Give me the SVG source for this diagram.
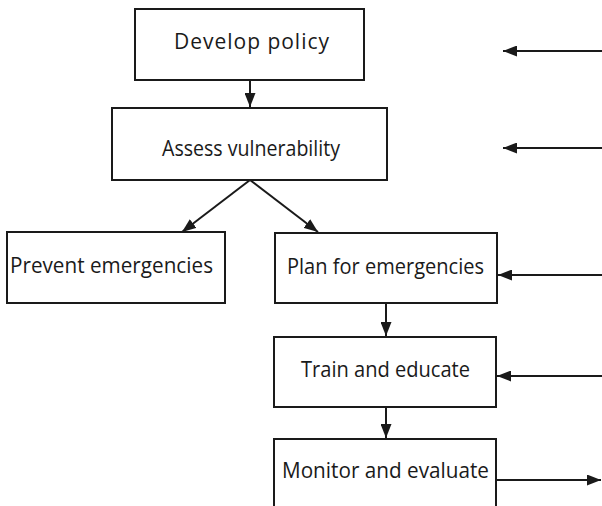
<svg xmlns="http://www.w3.org/2000/svg" width="602" height="506" viewBox="0 0 602 506">
  <defs>
    <marker id="arrow" viewBox="0 0 14 11" refX="14" refY="5.5" markerWidth="14" markerHeight="11" markerUnits="userSpaceOnUse" orient="auto">
      <path d="M0,0 L14,5.5 L0,11 Z" fill="#1a1a1a"/>
    </marker>
    <style>
      .box { fill: #ffffff; stroke: #1a1a1a; stroke-width: 2; }
      .label { font-family: "Open Sans", "Liberation Sans", sans-serif; font-size: 21px; fill: #1a1a1a; text-anchor: middle; }
      .link { stroke: #1a1a1a; stroke-width: 2; fill: none; marker-end: url(#arrow); }
    </style>
  </defs>
  <rect width="602" height="506" fill="#ffffff"/>

  <!-- Connectors -->
  <g id="connectors">
    <line class="link" x1="250" y1="80" x2="250" y2="107"/>
    <line class="link" x1="250" y1="180" x2="182" y2="232"/>
    <line class="link" x1="250" y1="180" x2="318" y2="232"/>
    <line class="link" x1="386" y1="303" x2="386" y2="336"/>
    <line class="link" x1="386" y1="407" x2="386" y2="438"/>
    <line class="link" x1="602" y1="51" x2="503" y2="51"/>
    <line class="link" x1="602" y1="148" x2="503" y2="148"/>
    <line class="link" x1="602" y1="275" x2="498" y2="275"/>
    <line class="link" x1="602" y1="376" x2="497" y2="376"/>
    <line class="link" x1="496" y1="480" x2="601" y2="480"/>
  </g>

  <!-- Nodes -->
  <g id="develop-policy">
    <rect class="box" x="135" y="9" width="229" height="71"/>
    <text class="label" x="251.5" y="49" textLength="155" lengthAdjust="spacing">Develop policy</text>
  </g>
  <g id="assess-vulnerability">
    <rect class="box" x="112" y="108" width="275" height="72"/>
    <text class="label" x="251" y="156" textLength="178" lengthAdjust="spacingAndGlyphs">Assess vulnerability</text>
  </g>
  <g id="prevent-emergencies">
    <rect class="box" x="7" y="232" width="218" height="71"/>
    <text class="label" x="111.5" y="273" textLength="203" lengthAdjust="spacingAndGlyphs">Prevent emergencies</text>
  </g>
  <g id="plan-for-emergencies">
    <rect class="box" x="275" y="233" width="222" height="70"/>
    <text class="label" x="385.5" y="274" textLength="197" lengthAdjust="spacingAndGlyphs">Plan for emergencies</text>
  </g>
  <g id="train-and-educate">
    <rect class="box" x="274" y="337" width="222" height="70"/>
    <text class="label" x="385.5" y="377" textLength="169" lengthAdjust="spacingAndGlyphs">Train and educate</text>
  </g>
  <g id="monitor-and-evaluate">
    <path class="box" d="M274,510 L274,439 L496,439 L496,510"/>
    <text class="label" x="385.5" y="478" textLength="207" lengthAdjust="spacingAndGlyphs">Monitor and evaluate</text>
  </g>
</svg>
